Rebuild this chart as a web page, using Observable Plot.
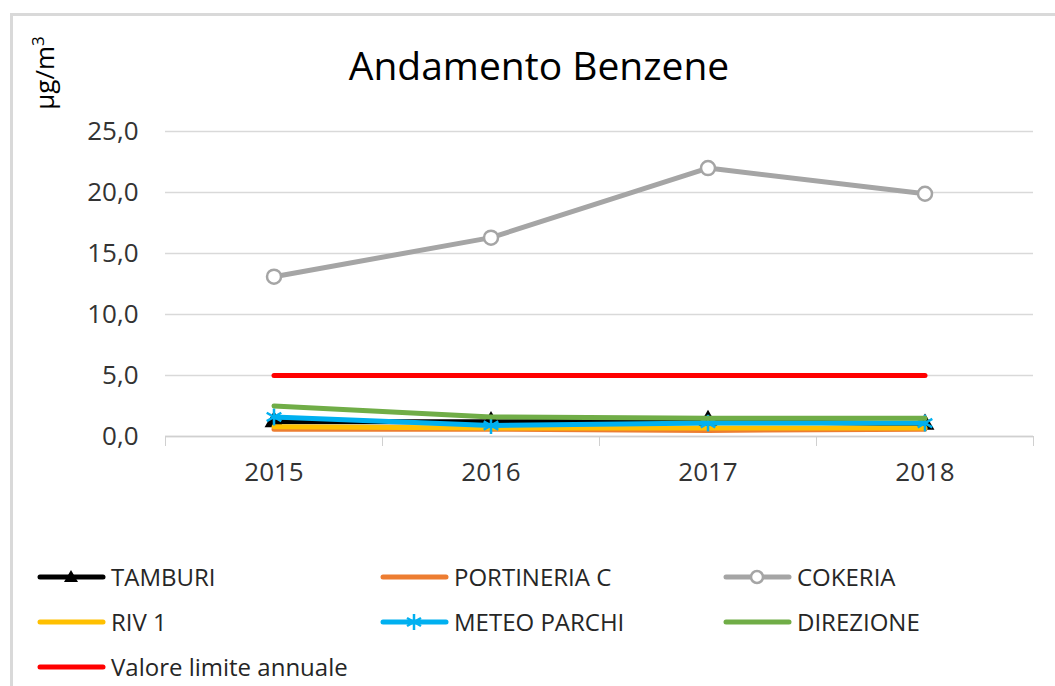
<!DOCTYPE html>
<html>
<head>
<meta charset="utf-8">
<script src="https://cdn.jsdelivr.net/npm/d3@7"></script>
<script src="https://cdn.jsdelivr.net/npm/@observablehq/plot@0.6"></script>
<style>
  html, body { margin: 0; padding: 0; background: #fff; width: 1055px; height: 686px; overflow: hidden; }
  body { position: relative; font-family: "Open Sans", sans-serif; color: #404040; }
  #frame { position: absolute; left: 10px; top: 13px; width: 1100px; height: 700px;
           border-top: 3px solid #d9d9d9; border-left: 3px solid #d9d9d9; box-sizing: border-box; }
  #title { position: absolute; left: 0; top: 45px; width: 1078px; text-align: center;
           font-size: 39px; line-height: 39px; color: #000; }
  #unit { position: absolute; left: 44px; top: 73px; transform: translate(-50%, -50%) rotate(-90deg);
          font-size: 26px; line-height: 26px; color: #000; white-space: nowrap; }
  #unit sup { font-size: 17px; vertical-align: 10px; line-height: 0; }
  #chart { position: absolute; left: 0; top: 100px; }
  .leg { position: absolute; display: flex; align-items: center; font-size: 24px; line-height: 24px; color: #262626; white-space: nowrap; }
  .leg svg { display: block; margin-right: 4px; }
</style>
</head>
<body>
<div id="frame"></div>
<div id="title">Andamento Benzene</div>
<div id="unit">µg/m<sup>3</sup></div>
<div id="chart"></div>
<div id="legend"></div>
<script>
// ---- data ----
const years = [2015, 2016, 2017, 2018];
const tamburi = [1.2, 1.2, 1.3, 1.0];
const portineriaC = [0.6, 0.6, 0.5, 0.6];
const cokeria = [13.1, 16.3, 22.0, 19.9];
const riv1 = [0.8, 0.7, 0.7, 0.7];
const meteoParchi = [1.6, 0.9, 1.1, 1.1];
const direzione = [2.5, 1.6, 1.5, 1.5];
const limite = [5.0, 5.0, 5.0, 5.0];
const yTicks = [0, 5, 10, 15, 20, 25];

const seriesNames = ["TAMBURI", "PORTINERIA C", "COKERIA", "RIV 1", "METEO PARCHI", "DIREZIONE", "Valore limite annuale"];
const seriesValues = [tamburi, portineriaC, cokeria, riv1, meteoParchi, direzione, limite];
const seriesColors = ["#000000", "#ED7D31", "#A5A5A5", "#FFC000", "#00B0F0", "#70AD47", "#FF0000"];
const seriesMarkers = ["triangle", null, "circle", null, "asterisk", null, null];

const rows = s => years.map((y, i) => ({year: y, value: seriesValues[s][i], series: seriesNames[s]}));

const marks = [
  Plot.gridY(yTicks, {stroke: "#d9d9d9", strokeOpacity: 1, strokeWidth: 1.3}),
  Plot.ruleY([0], {stroke: "#d0d0d0", strokeWidth: 1.5}),
  Plot.axisY({ticks: yTicks, tickSize: 0, tickPadding: 27, tickFormat: d => d.toFixed(1).replace(".", ","), label: null, fontSize: 26}),
  Plot.axisX({ticks: [2014.5, 2015.5, 2016.5, 2017.5, 2018.5], tickSize: 10, tickFormat: () => "", stroke: "#d0d0d0", label: null}),
  Plot.axisX({ticks: years, tickSize: 0, tickPadding: 26, tickFormat: d => String(d), label: null, fontSize: 26})
];

seriesNames.forEach((name, s) => {
  const data = rows(s);
  marks.push(Plot.line(data, {x: "year", y: "value", stroke: seriesColors[s], strokeWidth: 5, strokeLinecap: "round", strokeLinejoin: "round"}));
  const m = seriesMarkers[s];
  if (m === "triangle") marks.push(Plot.dot(data, {x: "year", y: "value", symbol: "triangle", r: 7, fill: seriesColors[s]}));
  if (m === "circle") marks.push(Plot.dot(data, {x: "year", y: "value", symbol: "circle", r: 7, fill: "#fff", stroke: seriesColors[s], strokeWidth: 2.5}));
  if (m === "asterisk") marks.push(Plot.dot(data, {x: "year", y: "value", symbol: "asterisk", r: 8, stroke: seriesColors[s], strokeWidth: 2.5}));
});

const chart = Plot.plot({
  width: 1055,
  height: 400,
  marginTop: 31,
  marginBottom: 64,
  marginLeft: 165,
  marginRight: 22,
  x: {type: "linear", domain: [2014.5, 2018.5]},
  y: {domain: [0, 25]},
  style: {fontFamily: "Open Sans, sans-serif", fontSize: "26px", color: "#333333", background: "transparent", overflow: "visible"},
  marks
});
document.getElementById("chart").appendChild(chart);

// ---- legend ----
const legendPos = [[37, 577], [380, 577], [723, 577], [37, 622], [380, 622], [723, 622], [37, 667]];
const legend = document.getElementById("legend");
seriesNames.forEach((name, s) => {
  const [lx, ly] = legendPos[s];
  const div = document.createElement("div");
  div.className = "leg";
  div.style.left = lx + "px";
  div.style.top = (ly - 15) + "px";
  div.style.height = "30px";
  const c = seriesColors[s];
  let marker = "";
  if (seriesMarkers[s] === "triangle") marker = `<path d="M34,8 L41,20 L27,20 Z" fill="${c}"/>`;
  if (seriesMarkers[s] === "circle") marker = `<circle cx="34" cy="15" r="6" fill="#fff" stroke="${c}" stroke-width="2.5"/>`;
  if (seriesMarkers[s] === "asterisk") marker = `<g stroke="${c}" stroke-width="2.5"><line x1="34" y1="7" x2="34" y2="23"/><line x1="27" y1="11" x2="41" y2="19"/><line x1="27" y1="19" x2="41" y2="11"/></g>`;
  div.innerHTML = `<svg width="70" height="30"><line x1="3" y1="15" x2="66" y2="15" stroke="${c}" stroke-width="5" stroke-linecap="round"/>${marker}</svg><span>${name}</span>`;
  legend.appendChild(div);
});
</script>
</body>
</html>
